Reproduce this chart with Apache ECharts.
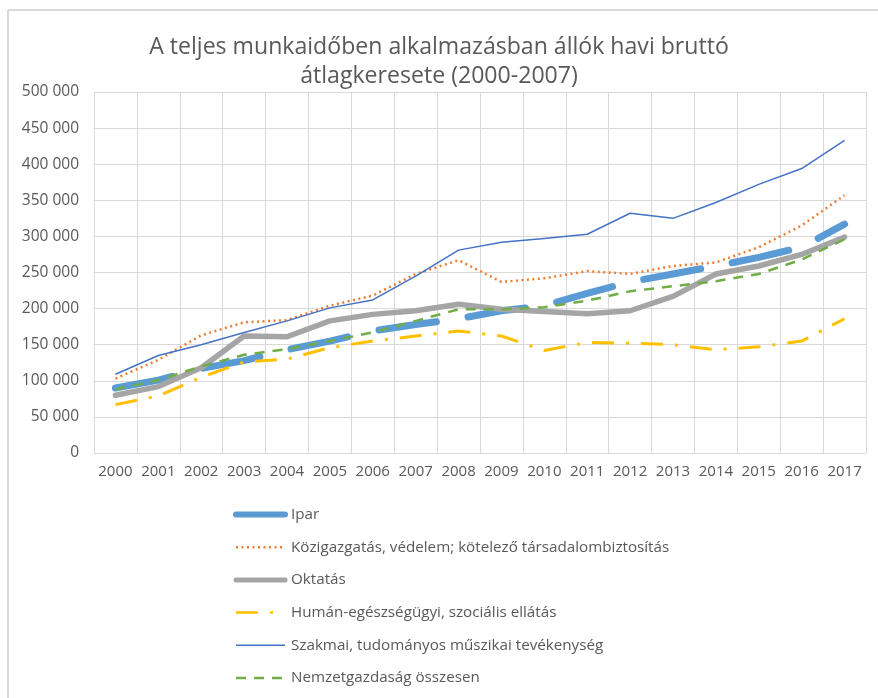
<!DOCTYPE html>
<html><head><meta charset="utf-8">
<script src="https://cdn.jsdelivr.net/npm/echarts@6/dist/echarts.min.js"></script>
<style>html,body{margin:0;padding:0;background:#fff}#c{width:878px;height:698px}</style>
</head><body><div id="c"></div>
<script>
const titleText = 'A teljes munkaidőben alkalmazásban állók havi bruttó\nátlagkeresete (2000-2007)';
const years = ['2000','2001','2002','2003','2004','2005','2006','2007','2008','2009','2010','2011','2012','2013','2014','2015','2016','2017'];
const seriesNames = ['Ipar','Közigazgatás, védelem; kötelező társadalombiztosítás','Oktatás','Humán-egészségügyi, szociális ellátás','Szakmai, tudományos műszikai tevékenység','Nemzetgazdaság összesen'];
const ipar = [90000,101000,117000,128000,143000,155000,169000,178000,186000,197000,204000,221000,237000,248000,259000,271000,285000,317000];
const kozig = [103000,129000,163000,181000,184000,204000,218000,248000,267000,237000,242000,252000,248000,259000,264000,285000,315000,357000];
const oktatas = [80000,92000,118000,162000,161000,183000,192000,197000,206000,199000,196000,193000,197000,217000,248000,259000,275000,299000];
const human = [67000,79000,105000,126000,130000,146000,155000,162000,169000,162000,142000,153000,152000,150000,143000,147000,155000,186000];
const szakmai = [109000,135000,150000,167000,183000,201000,212000,245000,281000,292000,297000,303000,332000,325000,347000,372000,394000,433000];
const nemzet = [88000,101000,120000,136000,144000,155000,167000,183000,199000,199000,202000,211000,224000,231000,238000,248000,268000,296000];

const FONT = 'Open Sans';
const TXT = '#595959';
const chart = echarts.init(document.getElementById('c'), null, {renderer:'canvas'});
const styles = [
  {data: ipar, color:'#5B9BD5', width:7, type:[58,32], cap:'round', lw:6},
  {data: kozig, color:'#ED7D31', width:2.5, type:[2,3.5], cap:'butt', lw:2.5},
  {data: oktatas, color:'#A5A5A5', width:5.5, type:'solid', cap:'round', lw:5},
  {data: human, color:'#FFC000', width:3, type:[22,12,3,12], cap:'butt', lw:2.5},
  {data: szakmai, color:'#4472C4', width:1.5, type:'solid', cap:'butt', lw:1.5},
  {data: nemzet, color:'#70AD47', width:2.5, type:[10,8], cap:'butt', lw:2.5}
];
chart.setOption({
  animation:false,
  backgroundColor:'#fff',
  title:{text:titleText, left:'center', top:33, padding:0, itemGap:0,
    textStyle:{fontFamily:FONT, fontSize:23.1, fontWeight:'normal', color:TXT, lineHeight:29}},
  graphic:[
    {type:'line', shape:{x1:8,y1:10,x2:878,y2:10}, style:{stroke:'#D9D9D9', lineWidth:2}},
    {type:'line', shape:{x1:8,y1:10,x2:8,y2:698}, style:{stroke:'#D9D9D9', lineWidth:2}}
  ],
  grid:{left:94, right:12, top:92, bottom:245, containLabel:false},
  legend:{orient:'vertical', left:233, top:507, padding:0, itemWidth:49, itemHeight:14, itemGap:17.7,
    itemStyle:{opacity:0},
    textStyle:{fontFamily:FONT, fontSize:15.2, color:TXT, lineHeight:14, padding:[0,0,0,1]},
    data: seriesNames.map((n,i)=>({name:n, itemStyle:{opacity:0}, lineStyle:{width:styles[i].lw, type: styles[i].type, color: styles[i].color, cap: styles[i].cap}}))
  },
  xAxis:{type:'category', data:years, boundaryGap:true,
    axisLine:{lineStyle:{color:'#D9D9D9'}}, axisTick:{show:false},
    axisLabel:{interval:0, fontFamily:FONT, fontSize:15, color:TXT, margin:11},
    splitLine:{show:true, interval:0, lineStyle:{color:'#D9D9D9'}}},
  yAxis:{type:'value', min:0, max:500000, interval:50000,
    axisLine:{show:false}, axisTick:{show:false},
    axisLabel:{fontFamily:FONT, fontSize:15.5, color:TXT, margin:15,
      formatter:v=> v===0 ? '0' : String(v).replace(/\B(?=(\d{3})+(?!\d))/g,' ')},
    splitLine:{lineStyle:{color:'#D9D9D9'}}},
  series: styles.map((s,i)=>({name:seriesNames[i], type:'line', data:s.data, symbol:'none', showSymbol:false,
    lineStyle:{color:s.color, width:s.width, type:s.type, cap:s.cap, join:'round'}, itemStyle:{color:s.color}}))
});
</script></body></html>
